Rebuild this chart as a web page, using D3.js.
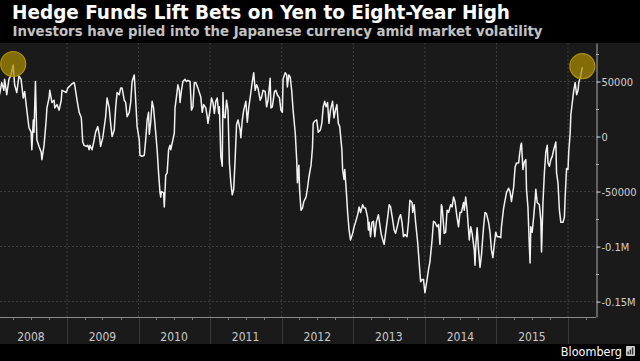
<!DOCTYPE html>
<html>
<head>
<meta charset="utf-8">
<script src="https://cdn.jsdelivr.net/npm/d3@7"></script>
<style>
  html, body { margin: 0; padding: 0; background: #000; }
  svg { display: block; }
</style>
</head>
<body>
<div id="chart"></div>
<script>
// CFTC net yen positions, weekly (decimal year, thousands of contracts)
const weeks = [
  2008.06,2008.09,2008.12,2008.13,2008.16,2008.19,2008.22,2008.25,2008.27,2008.30,
  2008.33,2008.36,2008.39,2008.41,2008.44,2008.47,2008.50,2008.51,2008.53,2008.54,
  2008.56,2008.58,2008.61,2008.64,2008.65,2008.68,2008.71,2008.72,2008.75,2008.76,
  2008.79,2008.82,2008.83,2008.86,2008.89,2008.92,2008.93,2008.96,2008.99,
  2009.01,2009.04,2009.07,2009.10,2009.11,2009.14,2009.17,2009.20,2009.22,2009.24,
  2009.27,2009.29,2009.31,2009.32,2009.35,2009.38,2009.40,2009.43,2009.45,2009.47,
  2009.50,2009.54,2009.56,2009.59,2009.61,2009.63,2009.66,2009.68,2009.70,2009.73,
  2009.75,2009.77,2009.80,2009.82,2009.84,2009.87,2009.89,2009.91,2009.94,2009.95,
  2009.98,
  2010.01,2010.02,2010.05,2010.08,2010.10,2010.12,2010.14,2010.15,2010.17,2010.19,
  2010.21,2010.23,2010.26,2010.28,2010.30,2010.31,2010.32,2010.35,2010.36,2010.38,
  2010.40,2010.42,2010.44,2010.45,2010.48,2010.50,2010.51,2010.53,2010.55,2010.57,
  2010.58,2010.60,2010.62,2010.65,2010.67,2010.69,2010.72,2010.74,2010.76,2010.78,
  2010.80,2010.83,2010.87,2010.89,2010.91,2010.94,2010.96,2010.97,
  2011.00,2011.02,2011.04,2011.06,2011.08,2011.10,2011.12,2011.13,2011.15,2011.17,
  2011.18,2011.19,2011.21,2011.23,2011.25,2011.27,2011.29,2011.31,2011.33,2011.35,
  2011.37,2011.39,2011.42,2011.43,2011.45,2011.47,2011.50,2011.52,2011.54,2011.57,
  2011.59,2011.61,2011.63,2011.65,2011.67,2011.70,2011.72,2011.74,2011.77,2011.79,
  2011.81,2011.84,2011.85,2011.87,2011.90,2011.92,2011.94,2011.97,2011.99,
  2012.01,2012.02,2012.05,2012.07,2012.08,2012.10,2012.12,2012.14,2012.16,2012.19,
  2012.21,2012.22,2012.24,2012.25,2012.27,2012.29,2012.31,2012.34,2012.36,2012.38,
  2012.41,2012.43,2012.44,2012.46,2012.49,2012.51,2012.54,2012.56,2012.58,2012.60,
  2012.62,2012.64,2012.66,2012.68,2012.71,2012.73,2012.75,2012.77,2012.79,2012.81,
  2012.84,2012.85,2012.87,2012.88,2012.90,2012.92,2012.94,2012.96,2012.99,
  2013.01,2013.03,2013.06,2013.08,2013.10,2013.13,2013.15,2013.17,2013.20,2013.21,
  2013.22,2013.24,2013.26,2013.28,2013.30,2013.32,2013.35,2013.37,2013.39,2013.42,
  2013.43,2013.45,2013.48,2013.50,2013.52,2013.55,2013.57,2013.59,2013.62,2013.64,
  2013.66,2013.68,2013.70,2013.72,2013.75,2013.77,2013.79,2013.82,2013.83,2013.85,
  2013.87,2013.90,2013.92,2013.94,2013.96,2013.98,
  2014.00,2014.03,2014.05,2014.07,2014.10,2014.12,2014.14,2014.17,2014.19,2014.21,
  2014.23,2014.24,2014.27,2014.29,2014.31,2014.33,2014.36,2014.38,2014.40,2014.42,
  2014.45,2014.47,2014.49,2014.51,2014.54,2014.55,2014.57,2014.59,2014.62,2014.64,
  2014.66,2014.69,2014.70,2014.71,2014.73,2014.75,2014.77,2014.79,2014.82,2014.84,
  2014.86,2014.89,2014.91,2014.93,2014.95,2014.97,2014.99,
  2015.01,2015.04,2015.06,2015.07,2015.10,2015.12,2015.14,2015.17,2015.19,2015.21,
  2015.24,2015.26,2015.28,2015.31,2015.32,2015.34,2015.35,2015.37,2015.39,2015.41,
  2015.42,2015.44,2015.46,2015.47,2015.48,2015.50,2015.52,2015.54,2015.55,2015.57,
  2015.60,2015.62,2015.63,2015.65,2015.67,2015.69,2015.71,2015.72,2015.74,2015.76,
  2015.78,2015.80,2015.83,2015.84,2015.86,2015.88,2015.90,2015.93,2015.95,2015.96,
  2015.98,
  2016.00,2016.01,2016.03,2016.04,2016.06,2016.08,2016.10,2016.12,2016.14,2016.15,
  2016.18,2016.20
];
const netYenK = [
  38,49,42,52,38,52,56,65,47,40, 55,52,35,41,24,8,4,-12,15,4,
  50,-3,-9,-14,-21,-8,15,26,35,42, 31,33,26,29,24,33,42,41,40,
  44,46,48,49,46,33,22,17,-5,-8, -9,-8,-12,-8,-12,-3,4,9,2,-9,
  -1,18,35,26,12,0,6,26,40,38, 44,44,33,31,18,22,31,50,56,45, 9,
  -3,-17,-18,-17,-3,15,22,2,13,32, 26,11,-12,-33,-51,-55,-50,-51,-64,-35,
  -33,-12,-8,-12,-3,3,26,36,47,42, 31,42,50,52,50,51,50,24,27,49,
  49,44,36,22,29,26,18,12,
  24,35,31,21,32,35,21,27,-18,-27, 40,18,17,33,24,-24,-42,-53,-48,-21,
  11,15,6,-1,15,24,32,13,26,40, 50,58,42,47,44,33,36,42,41,27,
  33,53,26,27,41,42,38,35,24,
  22,52,58,56,45,56,54,42,24,3, -21,-42,-26,-48,-67,-65,-59,-55,-47,-37,
  -26,-10,12,14,15,4,6,12,27,32, 27,31,12,24,32,17,24,29,12,9,
  -12,-30,-39,-30,-48,-69,-85,-94,-88,
  -82,-78,-71,-64,-69,-62,-65,-65,-74,-85, -78,-91,-78,-77,-91,-78,-71,-80,-89,-96,
  -98,-88,-73,-62,-64,-76,-85,-88,-80,-74, -71,-78,-91,-89,-91,-78,-58,-60,-69,-62,
  -78,-97,-115,-132,-130,-130,
  -142,-130,-121,-114,-94,-77,-78,-82,-80,-98, -62,-64,-88,-87,-67,-69,-62,-64,-55,-59,
  -74,-82,-69,-69,-60,-67,-55,-67,-94,-82, -88,-103,-117,-100,-83,-103,-119,-108,-82,-69,
  -70,-78,-87,-103,-110,-98,-87,
  -91,-91,-92,-82,-65,-58,-51,-47,-50,-59, -46,-28,-24,-24,-18,-8,-6,-30,-23,-21,
  -48,-64,-100,-115,-82,-87,-73,-58,-48,-60, -62,-76,-105,-60,-33,-14,-8,-24,-27,-21,
  -18,-12,-5,-33,-42,-67,-78,-78,-73,-55, -29,
  -30,-14,3,20,31,42,49,38,42,49, 56,63
];
// the two circled highs (2008 and latest)
const highlightWeeks = [2008.25, 2016.20];

const years = ["2008","2009","2010","2011","2012","2013","2014","2015"];
const yTickValues = [50000, 0, -50000, -100000, -150000];
const yTickLabels = ["50000", "0", "-50000", "-0.1M", "-0.15M"];

const YenChart = (function(){
  /* globals d3 */
  const FONT = '"DejaVu Sans Condensed", "DejaVu Sans", sans-serif';

  function toDate(t){
    const yr = Math.floor(t);
    const a = new Date(yr, 0, 1), b = new Date(yr + 1, 0, 1);
    return new Date(+a + (t - yr) * (b - a));
  }

  function draw(){
    const width = 640, height = 361;
    const plotTop = 43, plotBottom = 317, bandBottom = 344, axisX = 596;

    const data = weeks.map((w, i) => ({ date: toDate(w), value: netYenK[i] * 1000 }));

    const svg = d3.select('#chart').append('svg')
      .attr('width', width)
      .attr('height', height);

    // backgrounds
    svg.append('rect').attr('width', width).attr('height', height).attr('fill', '#000');
    svg.append('rect')
      .attr('x', 0).attr('y', plotTop)
      .attr('width', width).attr('height', bandBottom - plotTop)
      .attr('fill', '#1a1a1a');

    const x = d3.scaleTime()
      .domain([new Date(2009, 0, 1), new Date(2016, 0, 1)])
      .range([67, 568]);
    const y = d3.scaleLinear()
      .domain([-164000, 85000])
      .range([plotBottom, plotTop]);

    // horizontal grid
    svg.append('g').selectAll('line')
      .data(yTickValues)
      .join('line')
      .attr('x1', 0).attr('x2', axisX)
      .attr('y1', d => y(d)).attr('y2', d => y(d))
      .attr('stroke', '#3f3f3f')
      .attr('stroke-dasharray', '2,2');

    // year boundaries: dotted in the plot, solid in the label band
    const yearStarts = d3.timeYear.range(new Date(2009, 0, 1), new Date(2016, 0, 2));
    svg.append('g').selectAll('line')
      .data(yearStarts)
      .join('line')
      .attr('x1', d => x(d)).attr('x2', d => x(d))
      .attr('y1', plotTop).attr('y2', plotBottom)
      .attr('stroke', '#3f3f3f')
      .attr('stroke-dasharray', '2,2');
    svg.append('g').selectAll('line')
      .data(yearStarts)
      .join('line')
      .attr('x1', d => Math.round(x(d)) + 0.5).attr('x2', d => Math.round(x(d)) + 0.5)
      .attr('y1', plotBottom).attr('y2', bandBottom)
      .attr('stroke', '#3a3a3a');

    // bottom axis line + quarter ticks
    svg.append('line')
      .attr('x1', 0).attr('x2', axisX)
      .attr('y1', plotBottom + 0.5).attr('y2', plotBottom + 0.5)
      .attr('stroke', '#8a8a8a');
    const quarters = d3.timeMonth.every(3).range(new Date(2008, 0, 1), new Date(2016, 5, 1))
      .filter(d => d.getMonth() !== 0);
    svg.append('g').selectAll('line')
      .data(quarters)
      .join('line')
      .attr('x1', d => Math.round(x(d)) + 0.5).attr('x2', d => Math.round(x(d)) + 0.5)
      .attr('y1', plotBottom + 1).attr('y2', plotBottom + 3)
      .attr('stroke', '#777');

    svg.append('g').selectAll('text')
      .data(years)
      .join('text')
      .attr('x', d => x(new Date(+d, 6, 1)))
      .attr('y', 341)
      .attr('text-anchor', 'middle')
      .style('font-family', FONT)
      .style('font-size', '12px')
      .attr('fill', '#cacaca')
      .text(d => d);

    // right axis
    const yAxis = d3.axisRight(y)
      .tickValues(yTickValues)
      .tickFormat((d, i) => yTickLabels[i])
      .tickSize(4)
      .tickSizeOuter(0)
      .tickPadding(1);
    const ax = svg.append('g')
      .attr('transform', 'translate(' + (axisX + 0.5) + ',0)')
      .call(yAxis);
    ax.select('.domain').attr('stroke', '#aaa');
    ax.selectAll('.tick line').attr('stroke', '#ddd');
    ax.selectAll('.tick text')
      .attr('fill', '#d0d0d0')
      .style('font-family', FONT)
      .style('font-size', '11px');

    const minorTicks = [75000, 25000, -25000, -75000, -125000];
    svg.append('g').selectAll('line')
      .data(minorTicks)
      .join('line')
      .attr('x1', axisX).attr('x2', axisX + 3)
      .attr('y1', d => Math.round(y(d)) + 0.5).attr('y2', d => Math.round(y(d)) + 0.5)
      .attr('stroke', '#aaa');

    // the series
    const line = d3.line()
      .x(d => x(d.date))
      .y(d => y(d.value));
    svg.append('path')
      .datum(data)
      .attr('d', line)
      .attr('fill', 'none')
      .attr('stroke', '#f2f2f2')
      .attr('stroke-width', 1.5)
      .attr('stroke-linejoin', 'round');

    const marked = data.filter(d => highlightWeeks.some(w => +toDate(w) === +d.date));
    svg.append('g').selectAll('circle')
      .data(marked)
      .join('circle')
      .attr('cx', d => x(d.date))
      .attr('cy', d => y(d.value) - 1)
      .attr('r', 12.5)
      .attr('fill', '#a98c00')
      .attr('fill-opacity', 0.72)
      .attr('stroke', '#b49400')
      .attr('stroke-width', 1.2);

    // titles
    svg.append('text')
      .attr('x', 12).attr('y', 19)
      .style('font-family', FONT)
      .style('font-size', '19.5px')
      .style('font-weight', 'bold')
      .attr('fill', '#fff')
      .attr('textLength', 498)
      .attr('lengthAdjust', 'spacingAndGlyphs')
      .text('Hedge Funds Lift Bets on Yen to Eight-Year High');
    svg.append('text')
      .attr('x', 12.5).attr('y', 36)
      .style('font-family', FONT)
      .style('font-size', '13.5px')
      .style('font-weight', 'bold')
      .attr('fill', '#c2c2c2')
      .attr('textLength', 530)
      .attr('lengthAdjust', 'spacingAndGlyphs')
      .text('Investors have piled into the Japanese currency amid market volatility');

    // source
    svg.append('text')
      .attr('x', 622).attr('y', 356)
      .attr('text-anchor', 'end')
      .style('font-family', FONT)
      .style('font-size', '12.5px')
      .attr('fill', '#fff')
      .text('Bloomberg');
    const icon = svg.append('g').attr('transform', 'translate(626,346)');
    icon.append('rect').attr('width', 9).attr('height', 10).attr('rx', 1).attr('fill', '#cfcfcf');
    icon.selectAll('.bar')
      .data([3, 5, 7])
      .join('rect')
      .attr('x', (d, i) => 1.5 + i * 2.2)
      .attr('y', d => 8.5 - d)
      .attr('width', 1.4)
      .attr('height', d => d)
      .attr('fill', '#333');
  }

  return { draw };
}());

YenChart.draw();
</script>
</body>
</html>
